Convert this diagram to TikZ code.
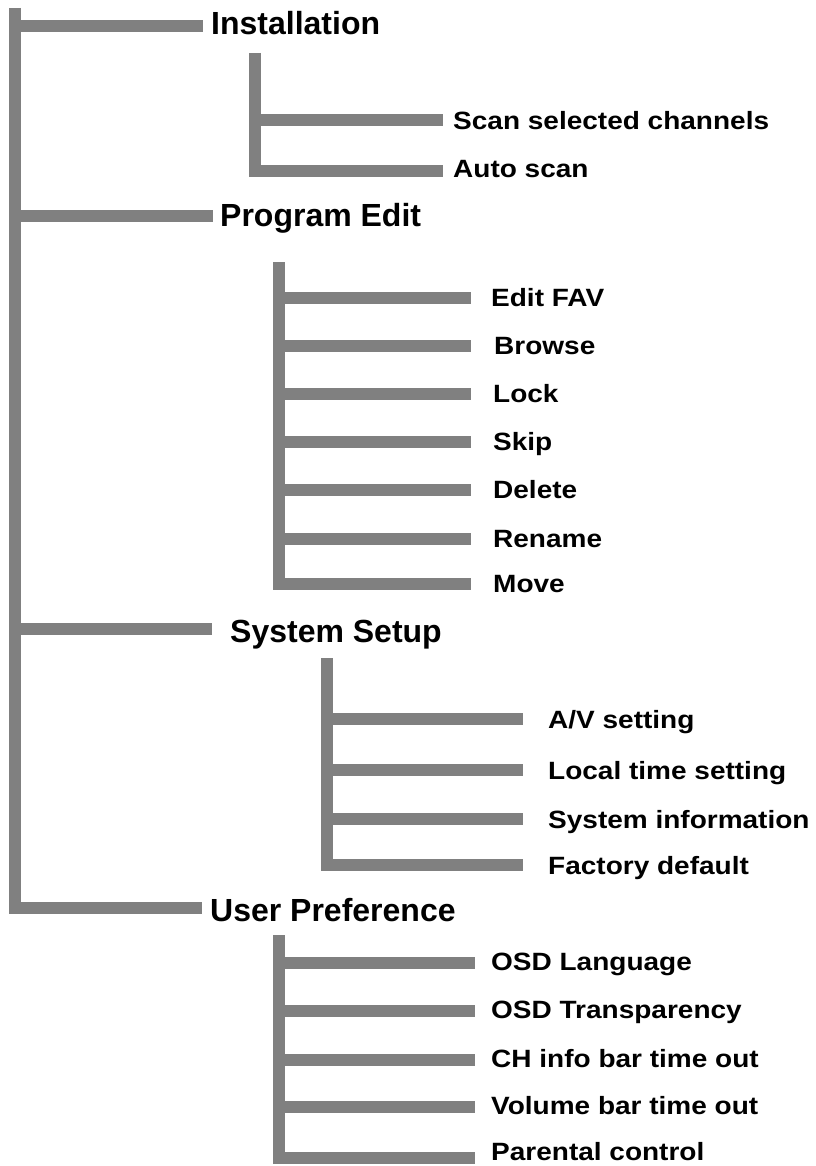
\documentclass[tikz,border=0pt]{standalone}
\usepackage{fontspec}
\setmainfont{Liberation Sans}
\newfontfamily\subfont[FakeStretch=1.12]{Liberation Sans}
\begin{document}
\begin{tikzpicture}[x=1pt,y=-1pt,
  bar/.style={draw=barcol,line width=12pt,line cap=butt},
  head/.style={anchor=base west,inner sep=0pt,font=\fontsize{32}{38}\selectfont\bfseries},
  sub/.style={anchor=base west,inner sep=0pt,font=\subfont\fontsize{25}{30}\selectfont\bfseries}]
\definecolor{barcol}{RGB}{128,128,128}
\useasboundingbox (0,0) rectangle (815,1166);
% main spine
\coordinate (mtop) at (15,8);
\coordinate (mbot) at (15,913.5);
\draw[bar] (mtop) -- (mbot);
% level 1
\coordinate (e1) at (203,26);
\coordinate (e2) at (213,216);
\coordinate (e3) at (212,629);
\coordinate (e4) at (202,907.5);
\node[head] (h1) at (211,35) {Installation};
\node[head] (h2) at (220,227) {Program Edit};
\node[head] (h3) at (230,642) {System Setup};
\node[head] (h4) at (210,921) {User Preference};
\foreach \i in {1,2,3,4} \draw[bar] (mtop |- e\i) -- (e\i);
% Installation subtree
\coordinate (s1top) at (255,53);
\coordinate (s1bot) at (255,177.5);
\draw[bar] (s1top) -- (s1bot);
\coordinate (a1) at (443,120.5);
\coordinate (a2) at (443,171.5);
\node[sub] (ta1) at (453,130) {Scan selected channels};
\node[sub] (ta2) at (453,177.5) {Auto scan};
\foreach \i in {1,2} \draw[bar] (s1top |- a\i) -- (a\i);
% Program Edit subtree
\coordinate (s2top) at (279,262);
\coordinate (s2bot) at (279,590);
\draw[bar] (s2top) -- (s2bot);
\foreach \i/\y/\t/\x in {1/297.5/Edit FAV/491,2/346/Browse/494,3/394/Lock/493,4/442/Skip/493,5/490/Delete/493,6/539/Rename/493,7/584/Move/493}{
  \coordinate (b\i) at (471,\y);
  \node[sub] (tb\i) at (\x,\y+8.5) {\t};
  \draw[bar] (s2top |- b\i) -- (b\i);
}
% System Setup subtree
\coordinate (s3top) at (327,658);
\coordinate (s3bot) at (327,871);
\draw[bar] (s3top) -- (s3bot);
\foreach \i/\y/\t in {1/719/{A/V setting},2/770/Local time setting,3/818.5/System information,4/865/Factory default}{
  \coordinate (c\i) at (523,\y);
  \node[sub] (tc\i) at (548,\y+9.5) {\t};
  \draw[bar] (s3top |- c\i) -- (c\i);
}
% User Preference subtree
\coordinate (s4top) at (279,935);
\coordinate (s4bot) at (279,1164);
\draw[bar] (s4top) -- (s4bot);
\foreach \i/\y/\t/\b in {1/962.5/OSD Language/970,2/1011/OSD Transparency/1018,3/1060/CH info bar time out/1067,4/1107/Volume bar time out/1114,5/1158/Parental control/1160}{
  \coordinate (d\i) at (475,\y);
  \node[sub] (td\i) at (491,\b) {\t};
  \draw[bar] (s4top |- d\i) -- (d\i);
}
\end{tikzpicture}
\end{document}
